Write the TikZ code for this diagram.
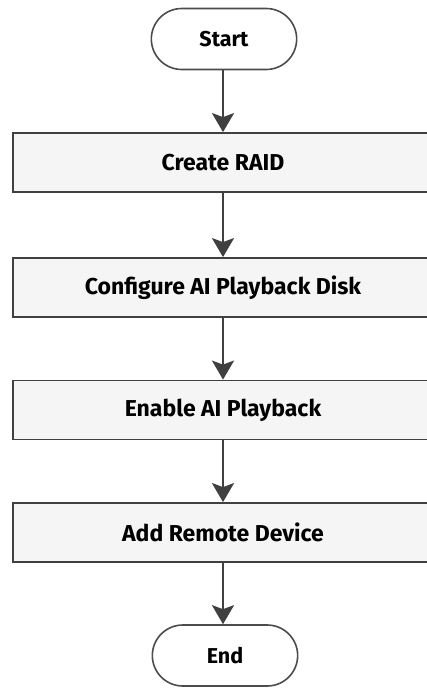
\documentclass[tikz,border=0pt]{standalone}
\usepackage{fontspec}
\setmainfont{Fira Sans}
\usepackage{tikz}
\usetikzlibrary{arrows.meta,positioning,shapes.misc}

\begin{document}
\begin{tikzpicture}[x=1pt,y=-1pt,>={Stealth[width=22pt,length=19pt,inset=4pt]},
  tm/.style={rounded rectangle,draw=black!70,line width=1.6pt,fill=white,
    minimum width=152pt,minimum height=61pt,font=\fontsize{21.5}{24}\selectfont\bfseries},
  pr/.style={rectangle,draw=black!75,line width=1.8pt,fill=black!4,
    minimum width=420pt,minimum height=59pt,font=\fontsize{23}{26}\selectfont\bfseries},
  ln/.style={->,draw=black!75,line width=2.6pt}]
  \useasboundingbox (0,0) rectangle (427,688);
  \clip (0,0) rectangle (427,688);
  \node[tm](st) at (224,39){Start};
  \node[pr](raid) at (223,162.5){Create RAID};
  \node[pr](cfg) at (223,287.5){Configure AI Playback Disk};
  \node[pr](en) at (223,410){Enable AI Playback};
  \node[pr](add) at (223,532.5){Add Remote Device};
  \node[tm](stop) at (225,655.5){End};
  % arrows between steps
  \draw[ln] (st.south -| raid) -- (raid);
  \draw[ln] (raid) -- (cfg);
  \draw[ln] (cfg) -- (en);
  \draw[ln] (en) -- (add);
  \draw[ln] (add.south) -- (stop.north -| add);
\end{tikzpicture}
\end{document}
